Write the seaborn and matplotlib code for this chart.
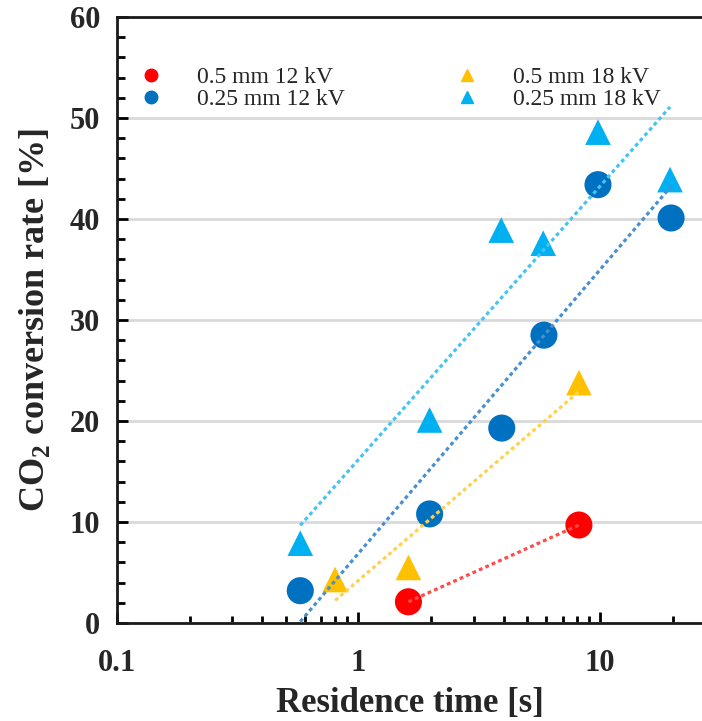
import numpy as np
import pandas as pd
import seaborn as sns
import matplotlib
matplotlib.use("Agg")
import matplotlib.pyplot as plt
from matplotlib.ticker import LogLocator, NullFormatter, MultipleLocator
from matplotlib.lines import Line2D

# ---- data ----
x_05_12 = [1.61, 8.18]
y_05_12 = [2.1, 9.7]
x_05_18 = [0.80, 1.61, 8.18]
y_05_18 = [4.3, 5.5, 23.8]
x_025_12 = [0.574, 1.97, 3.92, 5.86, 9.81, 19.7]
y_025_12 = [3.2, 10.8, 19.3, 28.5, 43.4, 40.1]
x_025_18 = [0.574, 1.97, 3.90, 5.82, 9.81, 19.5]
y_025_18 = [7.9, 20.1, 38.9, 37.6, 48.6, 43.9]

labels = ["0.5 mm 12 kV", "0.25 mm 12 kV", "0.5 mm 18 kV", "0.25 mm 18 kV"]
xticks = [0.1, 1, 10]
xtick_labels = ["0.1", "1", "10"]
yticks = [0, 10, 20, 30, 40, 50, 60]

series = [
    (labels[0], x_05_12, y_05_12, "o", "#FF0000", "#FF4B4B"),
    (labels[1], x_025_12, y_025_12, "o", "#0070C0", "#4A8FD0"),
    (labels[2], x_05_18, y_05_18, "^", "#FFC000", "#FFD24D"),
    (labels[3], x_025_18, y_025_18, "^", "#00B0F0", "#45C3F2"),
]

sns.set_style("white")
plt.rcParams["font.family"] = ["Liberation Serif", "DejaVu Serif"]
plt.rcParams["mathtext.fontset"] = "custom"
plt.rcParams["mathtext.rm"] = "Liberation Serif"
plt.rcParams["mathtext.bf"] = "Liberation Serif:bold"

fig = plt.figure(figsize=(7.02, 7.21), dpi=100)
ax = fig.add_axes([117 / 702, (721 - 623) / 721, (702 - 117) / 702, (623 - 17) / 721])

for lab, xs, ys, mk, col, lcol in series:
    df = pd.DataFrame({"x": xs, "y": ys})
    sns.scatterplot(data=df, x="x", y="y", ax=ax, marker=mk, color=col,
                    s=380 if mk == "o" else 340, edgecolor="none", linewidth=0,
                    zorder=3, legend=False)

for lab, xs, ys, mk, col, lcol in series:
    xs = np.asarray(xs)
    a, b = np.polyfit(np.log(xs), np.asarray(ys), 1)
    xx = np.geomspace(xs.min(), xs.max(), 50)
    ax.plot(xx, a * np.log(xx) + b, linestyle=(0, (1.2, 1.0)), color=lcol,
            linewidth=2.3, zorder=4)

ax.set_xscale("log")
ax.set_xlim(0.1, 26.45)
ax.set_ylim(0, 60)
ax.set_xticks(xticks)
ax.set_xticklabels(xtick_labels)
ax.xaxis.set_minor_locator(LogLocator(base=10, subs=np.arange(2, 10)))
ax.xaxis.set_minor_formatter(NullFormatter())
ax.set_yticks(yticks)
ax.yaxis.set_minor_locator(MultipleLocator(2))

for t in ax.get_xticklabels() + ax.get_yticklabels():
    t.set_fontweight("bold")
    t.set_fontsize(22)

ax.tick_params(bottom=True, left=True, top=False, right=False, which="both")
ax.tick_params(axis="both", which="major", direction="in", length=8, width=2,
               color="black")
ax.tick_params(axis="both", which="minor", direction="in", length=6, width=2,
               color="black")
ax.tick_params(axis="x", which="minor", length=5)
ax.tick_params(axis="x", which="major", pad=19)
ax.tick_params(axis="y", which="major", pad=12)

ax.yaxis.grid(True, which="major", color="#D9D9D9", linewidth=2, zorder=0)
ax.xaxis.grid(False)
ax.set_axisbelow(True)

for side in ["left", "bottom", "top"]:
    ax.spines[side].set_color("#1a1a1a")
    ax.spines[side].set_linewidth(2)
ax.spines["right"].set_visible(False)

ax.set_xlabel("Residence time [s]", fontsize=25, fontweight="bold", labelpad=6)
ax.set_ylabel(r"CO$_\mathbf{2}$ conversion rate [%]", fontsize=26,
              fontweight="bold", labelpad=13)

handles = [Line2D([], [], marker=mk, color=col, linestyle="none", markersize=9)
           for lab, xs, ys, mk, col, lcol in series]
ax.legend(handles, [s[0] for s in series], ncol=2, loc="upper left",
          frameon=False, fontsize=17, bbox_to_anchor=(-0.008, 0.953),
          columnspacing=4.4, handletextpad=1.2, labelspacing=0.0,
          handlelength=1.5)

fig.savefig("out.png", dpi=100)
